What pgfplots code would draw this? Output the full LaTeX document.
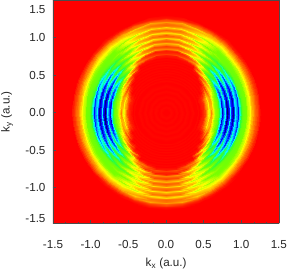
\documentclass[border=0pt]{standalone}
\usepackage{fontspec}
\setmainfont{Liberation Sans}
\usepackage{pgfplots}
\usepackage{pgfplotstable}
\pgfplotsset{compat=1.18}
\pgfplotstableread{
t r v
0 1.294 0
0 1.277 0
0 1.259 0
0 1.241 .2
0 1.223 .4
0 1.206 .6
0 1.188 .8
0 1.170 1
0 1.152 1.3
0 1.135 1.6
0 1.117 2
0 1.099 2.3
0 1.081 2.6
0 1.064 3
0 1.046 3.1
0 1.028 3.2
0 1.010 3.4
0 0.993 4
0 0.975 5.4
0 0.957 7
0 0.939 6
0 0.922 5
0 0.904 6.6
0 0.886 7.7
0 0.868 6.6
0 0.851 5
0 0.833 6.8
0 0.815 8
0 0.797 6.8
0 0.780 5
0 0.762 6.4
0 0.744 7.4
0 0.726 5.4
0 0.709 4
0 0.691 3.3
0 0.673 3
0 0.655 2.8
0 0.638 2.4
0 0.620 1.8
0 0.602 1
0 0.584 1.6
0 0.567 2.2
0 0.549 1.5
0 0.531 1
0 0.513 .6
0 0.496 .3
0 0.478 .2
0 0.460 .1
0 0.442 0
0 0.425 .05
0 0.407 0
0 0.389 0
10 1.294 0
10 1.277 0
10 1.259 0
10 1.241 .2
10 1.223 .4
10 1.206 .6
10 1.188 .8
10 1.170 1
10 1.152 1.3
10 1.135 1.6
10 1.117 2
10 1.099 2.3
10 1.081 2.6
10 1.064 3
10 1.046 3.1
10 1.028 3.2
10 1.010 3.4
10 0.993 3.9
10 0.975 5.2
10 0.957 6.7
10 0.939 5.8
10 0.922 4.9
10 0.904 6.4
10 0.886 7.5
10 0.868 6.4
10 0.851 4.9
10 0.833 6.6
10 0.815 7.8
10 0.797 6.6
10 0.780 4.9
10 0.762 6.2
10 0.744 7.2
10 0.726 5.3
10 0.709 4
10 0.691 3.3
10 0.673 3
10 0.655 2.8
10 0.638 2.5
10 0.620 2
10 0.602 1.4
10 0.584 1.4
10 0.567 2
10 0.549 1.5
10 0.531 1
10 0.513 .6
10 0.496 .3
10 0.478 .2
10 0.460 .1
10 0.442 0
10 0.425 .05
10 0.407 0
10 0.389 0
20 1.294 0
20 1.277 0
20 1.259 0
20 1.241 .2
20 1.223 .4
20 1.206 .6
20 1.188 .8
20 1.170 1.1
20 1.152 1.4
20 1.135 1.7
20 1.117 2
20 1.099 2.3
20 1.081 2.7
20 1.064 3
20 1.046 3.1
20 1.028 3.2
20 1.010 3.3
20 0.993 3.7
20 0.975 4.8
20 0.957 6.2
20 0.939 5.2
20 0.922 4.6
20 0.904 6
20 0.886 7.1
20 0.868 6
20 0.851 4.6
20 0.833 6.2
20 0.815 7.3
20 0.797 6
20 0.780 4.6
20 0.762 5.7
20 0.744 6.6
20 0.726 4.9
20 0.709 3.8
20 0.691 3.4
20 0.673 3
20 0.655 2.6
20 0.638 2.2
20 0.620 1.6
20 0.602 1.2
20 0.584 1.5
20 0.567 1.8
20 0.549 1.3
20 0.531 .8
20 0.513 .5
20 0.496 .3
20 0.478 .2
20 0.460 .1
20 0.442 0
20 0.425 .05
20 0.407 0
20 0.389 0
30 1.294 0
30 1.277 0
30 1.259 0
30 1.241 .2
30 1.223 .4
30 1.206 .6
30 1.188 .9
30 1.170 1.2
30 1.152 1.5
30 1.135 1.8
30 1.117 2.1
30 1.099 2.5
30 1.081 2.8
30 1.064 3
30 1.046 3.1
30 1.028 3.2
30 1.010 3.2
30 0.993 3.5
30 0.975 4.2
30 0.957 5.3
30 0.939 4.6
30 0.922 4.2
30 0.904 5.2
30 0.886 6.5
30 0.868 5.2
30 0.851 4.2
30 0.833 5.4
30 0.815 6.7
30 0.797 5.2
30 0.780 4.1
30 0.762 4.8
30 0.744 5.6
30 0.726 4.2
30 0.709 3.4
30 0.691 3
30 0.673 2.4
30 0.655 1.6
30 0.638 1.8
30 0.620 1.2
30 0.602 .6
30 0.584 .9
30 0.567 .5
30 0.549 .3
30 0.531 .1
30 0.513 0
30 0.496 .05
30 0.478 0
30 0.460 .05
30 0.442 0
30 0.425 .05
30 0.407 0
30 0.389 0
40 1.294 0
40 1.277 0
40 1.259 0
40 1.241 .2
40 1.223 .4
40 1.206 .7
40 1.188 1
40 1.170 1.3
40 1.152 1.6
40 1.135 1.9
40 1.117 2.2
40 1.099 2.6
40 1.081 2.9
40 1.064 3
40 1.046 3.1
40 1.028 3.1
40 1.010 3.1
40 0.993 3.3
40 0.975 3.7
40 0.957 4.4
40 0.939 3.9
40 0.922 3.5
40 0.904 4.2
40 0.886 5.2
40 0.868 4.2
40 0.851 3.5
40 0.833 4.3
40 0.815 5.3
40 0.797 4.1
40 0.780 3.4
40 0.762 3.7
40 0.744 4.2
40 0.726 3.2
40 0.709 2.4
40 0.691 2.8
40 0.673 1.5
40 0.655 .9
40 0.638 1.2
40 0.620 .5
40 0.602 .2
40 0.584 0
40 0.567 .05
40 0.549 0
40 0.531 .05
40 0.513 0
40 0.496 .05
40 0.478 0
40 0.460 .05
40 0.442 0
40 0.425 .05
40 0.407 0
40 0.389 0
50 1.294 0
50 1.277 0
50 1.259 .1
50 1.241 .2
50 1.223 .5
50 1.206 .8
50 1.188 1.1
50 1.170 1.4
50 1.152 1.7
50 1.135 2
50 1.117 2.3
50 1.099 2.6
50 1.081 2.9
50 1.064 3
50 1.046 3
50 1.028 3
50 1.010 2.8
50 0.993 3
50 0.975 3.2
50 0.957 3.7
50 0.939 3.2
50 0.922 2.8
50 0.904 3.2
50 0.886 3.8
50 0.868 3.1
50 0.851 2.7
50 0.833 3.1
50 0.815 3.6
50 0.797 3
50 0.780 2.4
50 0.762 2.6
50 0.744 2.9
50 0.726 1.6
50 0.709 1
50 0.691 1.6
50 0.673 .5
50 0.655 .2
50 0.638 .1
50 0.620 0
50 0.602 .05
50 0.584 0
50 0.567 .05
50 0.549 0
50 0.531 .05
50 0.513 0
50 0.496 .05
50 0.478 0
50 0.460 .05
50 0.442 0
50 0.425 .05
50 0.407 0
50 0.389 0
60 1.294 0
60 1.277 0
60 1.259 .1
60 1.241 .3
60 1.223 .6
60 1.206 .9
60 1.188 1.2
60 1.170 1.5
60 1.152 1.8
60 1.135 2.1
60 1.117 2.2
60 1.099 2.7
60 1.081 2.2
60 1.064 2.1
60 1.046 2.5
60 1.028 3
60 1.010 2.5
60 0.993 2.1
60 0.975 2.5
60 0.957 3.1
60 0.939 2.5
60 0.922 2
60 0.904 2.4
60 0.886 3
60 0.868 2.4
60 0.851 1.8
60 0.833 2.1
60 0.815 2.6
60 0.797 1.5
60 0.780 .9
60 0.762 1.2
60 0.744 .9
60 0.726 .3
60 0.709 .1
60 0.691 0
60 0.673 .05
60 0.655 0
60 0.638 .05
60 0.620 0
60 0.602 .05
60 0.584 0
60 0.567 .05
60 0.549 0
60 0.531 .05
60 0.513 0
60 0.496 .05
60 0.478 0
60 0.460 .05
60 0.442 0
60 0.425 .05
60 0.407 0
60 0.389 0
70 1.294 0
70 1.277 0
70 1.259 .2
70 1.241 .4
70 1.223 .7
70 1.206 1
70 1.188 1.6
70 1.170 1.3
70 1.152 1.4
70 1.135 1.6
70 1.117 2.4
70 1.099 1.7
70 1.081 1.4
70 1.064 1.6
70 1.046 2.5
70 1.028 1.8
70 1.010 1.3
70 0.993 1.6
70 0.975 2.5
70 0.957 1.7
70 0.939 1.2
70 0.922 1.6
70 0.904 2.4
70 0.886 1.5
70 0.868 1
70 0.851 1.2
70 0.833 1.9
70 0.815 .9
70 0.797 .4
70 0.780 .6
70 0.762 .8
70 0.744 .3
70 0.726 .1
70 0.709 .05
70 0.691 0
70 0.673 .05
70 0.655 0
70 0.638 .05
70 0.620 0
70 0.602 .05
70 0.584 0
70 0.567 .05
70 0.549 0
70 0.531 .05
70 0.513 0
70 0.496 .05
70 0.478 0
70 0.460 .05
70 0.442 0
70 0.425 .05
70 0.407 0
70 0.389 0
80 1.294 0
80 1.277 .1
80 1.259 .2
80 1.241 .5
80 1.223 .8
80 1.206 1.3
80 1.188 1
80 1.170 .9
80 1.152 1.1
80 1.135 1.8
80 1.117 1.2
80 1.099 .9
80 1.081 1.2
80 1.064 1.9
80 1.046 1.3
80 1.028 .9
80 1.010 1.1
80 0.993 1.8
80 0.975 1.2
80 0.957 .8
80 0.939 1
80 0.922 1.6
80 0.904 1
80 0.886 .6
80 0.868 .7
80 0.851 1.2
80 0.833 .5
80 0.815 .2
80 0.797 .4
80 0.780 .6
80 0.762 .2
80 0.744 .1
80 0.726 0
80 0.709 .05
80 0.691 0
80 0.673 .05
80 0.655 0
80 0.638 .05
80 0.620 0
80 0.602 .05
80 0.584 0
80 0.567 .05
80 0.549 0
80 0.531 .05
80 0.513 0
80 0.496 .05
80 0.478 0
80 0.460 .05
80 0.442 0
80 0.425 .05
80 0.407 0
80 0.389 0
90 1.294 0
90 1.277 .1
90 1.259 .2
90 1.241 .5
90 1.223 .8
90 1.206 1.2
90 1.188 .9
90 1.170 .8
90 1.152 1
90 1.135 1.7
90 1.117 1.1
90 1.099 .8
90 1.081 1.1
90 1.064 1.7
90 1.046 1.1
90 1.028 .7
90 1.010 1
90 0.993 1.6
90 0.975 1
90 0.957 .7
90 0.939 .9
90 0.922 1.4
90 0.904 .9
90 0.886 .5
90 0.868 .6
90 0.851 1
90 0.833 .4
90 0.815 .2
90 0.797 .3
90 0.780 .5
90 0.762 .2
90 0.744 .1
90 0.726 0
90 0.709 .05
90 0.691 0
90 0.673 .05
90 0.655 0
90 0.638 .05
90 0.620 0
90 0.602 .05
90 0.584 0
90 0.567 .05
90 0.549 0
90 0.531 .05
90 0.513 0
90 0.496 .05
90 0.478 0
90 0.460 .05
90 0.442 0
90 0.425 .05
90 0.407 0
90 0.389 0
}\ringdata
\pgfplotstableread{
t r v
0 .389 0
0 .354 .05
0 .318 0
0 .283 .05
0 .248 0
0 .212 .05
0 .177 0
0 .141 .05
0 .106 0
0 .070 .05
0 .035 0
30 .389 0
30 .354 .05
30 .318 0
30 .283 .05
30 .248 0
30 .212 .05
30 .177 0
30 .141 .05
30 .106 0
30 .070 .05
30 .035 0
60 .389 0
60 .354 .05
60 .318 0
60 .283 .05
60 .248 0
60 .212 .05
60 .177 0
60 .141 .05
60 .106 0
60 .070 .05
60 .035 0
90 .389 0
90 .354 .05
90 .318 0
90 .283 .05
90 .248 0
90 .212 .05
90 .177 0
90 .141 .05
90 .106 0
90 .070 .05
90 .035 0
}\coredata
\begin{document}
\begin{tikzpicture}
\path[use as bounding box] (-53bp,-49.7bp) rectangle (236bp,223.3bp);
\begin{axis}[
  view={0}{90},
  scale only axis,
  width=226.3bp, height=223.3bp,
  xmin=-1.5, xmax=1.506, ymin=-1.475, ymax=1.5,
  point meta min=0, point meta max=8,
  colormap={rb}{rgb255=(255,0,0) rgb255=(255,128,0) rgb255=(255,255,0) rgb255=(120,255,0) rgb255=(40,255,60) rgb255=(0,255,255) rgb255=(0,120,255) rgb255=(0,0,255) rgb255=(0,0,90)},
  axis background/.style={fill=red},
  axis on top,
  axis line style={line width=.4pt, black!70},
  tick align=inside, tick pos=left,
  major tick length=3bp, minor tick length=1.5bp,
  minor tick num=2,
  tick style={black!70, line width=.4pt},
  xtick={-1.5,-1,-.5,0,.5,1,1.5},
  xticklabels={-1.5,-1.0,-0.5,0.0,0.5,1.0,1.5},
  ytick={-1.475,-1,-.5,0,.5,1,1.5},
  yticklabels={\raisebox{5bp}[8bp][0pt]{-1.5},-1.0,-0.5,0.0,0.5,1.0,\raisebox{-10bp}[8bp][0pt]{1.5}},
  tick label style={font=\fontsize{11.7}{14}\selectfont, black!85},
  xticklabel style={yshift=-13.5bp},
  yticklabel style={xshift=-4bp},
  label style={font=\fontsize{11.7}{14}\selectfont, black!85},
  xlabel={k\textsubscript{x} (a.u.)},
  ylabel={k\textsubscript{y} (a.u.)},
  xlabel style={at={(axis description cs:0.5,-0.179)}, anchor=center},
  ylabel style={at={(axis description cs:-0.203,0.5)}, anchor=center},
]
\addplot3[surf, shader=interp, mesh/rows=10, mesh/cols=52, point meta=\thisrow{v}]
  table[x expr=\thisrow{r}*cos(\thisrow{t}), y expr=\thisrow{r}*sin(\thisrow{t}), z expr=0] {\ringdata};
\addplot3[surf, shader=interp, mesh/rows=10, mesh/cols=52, point meta=\thisrow{v}]
  table[x expr=-\thisrow{r}*cos(\thisrow{t}), y expr=\thisrow{r}*sin(\thisrow{t}), z expr=0] {\ringdata};
\addplot3[surf, shader=interp, mesh/rows=10, mesh/cols=52, point meta=\thisrow{v}]
  table[x expr=\thisrow{r}*cos(\thisrow{t}), y expr=-\thisrow{r}*sin(\thisrow{t}), z expr=0] {\ringdata};
\addplot3[surf, shader=interp, mesh/rows=10, mesh/cols=52, point meta=\thisrow{v}]
  table[x expr=-\thisrow{r}*cos(\thisrow{t}), y expr=-\thisrow{r}*sin(\thisrow{t}), z expr=0] {\ringdata};
\addplot3[surf, shader=interp, mesh/rows=4, mesh/cols=11, point meta=\thisrow{v}]
  table[x expr=\thisrow{r}*cos(\thisrow{t}), y expr=\thisrow{r}*sin(\thisrow{t}), z expr=0] {\coredata};
\addplot3[surf, shader=interp, mesh/rows=4, mesh/cols=11, point meta=\thisrow{v}]
  table[x expr=-\thisrow{r}*cos(\thisrow{t}), y expr=\thisrow{r}*sin(\thisrow{t}), z expr=0] {\coredata};
\addplot3[surf, shader=interp, mesh/rows=4, mesh/cols=11, point meta=\thisrow{v}]
  table[x expr=\thisrow{r}*cos(\thisrow{t}), y expr=-\thisrow{r}*sin(\thisrow{t}), z expr=0] {\coredata};
\addplot3[surf, shader=interp, mesh/rows=4, mesh/cols=11, point meta=\thisrow{v}]
  table[x expr=-\thisrow{r}*cos(\thisrow{t}), y expr=-\thisrow{r}*sin(\thisrow{t}), z expr=0] {\coredata};
\end{axis}
\end{tikzpicture}
\end{document}
